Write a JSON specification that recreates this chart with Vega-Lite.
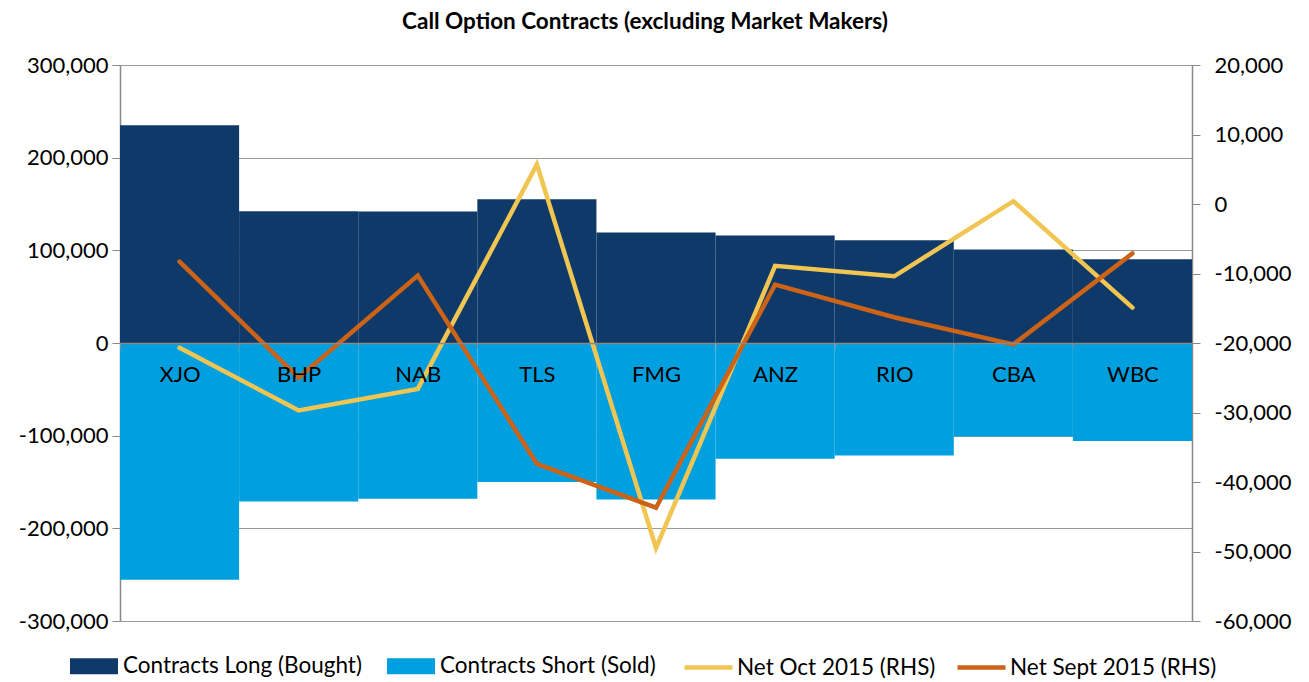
{
  "$schema": "https://vega.github.io/schema/vega-lite/v6.json",
  "autosize": {"type": "none"},
  "padding": {"left": 120, "top": 65, "right": 117, "bottom": 61},
  "width": 1072,
  "height": 556,
  "background": "white",
  "title": {
    "text": "Call Option Contracts (excluding Market Makers)",
    "font": "Lato",
    "fontSize": 22.5,
    "fontWeight": "bold",
    "color": "#000000",
    "anchor": "middle",
    "frame": "group",
    "dx": -11,
    "offset": 21
  },
  "config": {
    "font": "Lato",
    "view": {"stroke": null},
    "locale": {
      "number": {
        "decimal": ".",
        "thousands": ",",
        "grouping": [3],
        "currency": ["$", ""],
        "minus": "-"
      }
    }
  },
  "datasets": {
    "bars": [
      {"cat": "XJO", "series": "Contracts Long (Bought)", "value": 235000},
      {"cat": "BHP", "series": "Contracts Long (Bought)", "value": 142200},
      {"cat": "NAB", "series": "Contracts Long (Bought)", "value": 141900},
      {"cat": "TLS", "series": "Contracts Long (Bought)", "value": 155200},
      {"cat": "FMG", "series": "Contracts Long (Bought)", "value": 119200},
      {"cat": "ANZ", "series": "Contracts Long (Bought)", "value": 116000},
      {"cat": "RIO", "series": "Contracts Long (Bought)", "value": 110900},
      {"cat": "CBA", "series": "Contracts Long (Bought)", "value": 100900},
      {"cat": "WBC", "series": "Contracts Long (Bought)", "value": 90400},
      {"cat": "XJO", "series": "Contracts Short (Sold)", "value": -255500},
      {"cat": "BHP", "series": "Contracts Short (Sold)", "value": -171000},
      {"cat": "NAB", "series": "Contracts Short (Sold)", "value": -168000},
      {"cat": "TLS", "series": "Contracts Short (Sold)", "value": -150100},
      {"cat": "FMG", "series": "Contracts Short (Sold)", "value": -168800},
      {"cat": "ANZ", "series": "Contracts Short (Sold)", "value": -124900},
      {"cat": "RIO", "series": "Contracts Short (Sold)", "value": -121300},
      {"cat": "CBA", "series": "Contracts Short (Sold)", "value": -100800},
      {"cat": "WBC", "series": "Contracts Short (Sold)", "value": -105800}
    ],
    "lines": [
      {"cat": "XJO", "series": "Net Oct 2015 (RHS)", "value": -20700},
      {"cat": "BHP", "series": "Net Oct 2015 (RHS)", "value": -29700},
      {"cat": "NAB", "series": "Net Oct 2015 (RHS)", "value": -26600},
      {"cat": "TLS", "series": "Net Oct 2015 (RHS)", "value": 5700},
      {"cat": "FMG", "series": "Net Oct 2015 (RHS)", "value": -49500},
      {"cat": "ANZ", "series": "Net Oct 2015 (RHS)", "value": -8900},
      {"cat": "RIO", "series": "Net Oct 2015 (RHS)", "value": -10400},
      {"cat": "CBA", "series": "Net Oct 2015 (RHS)", "value": 400},
      {"cat": "WBC", "series": "Net Oct 2015 (RHS)", "value": -14900},
      {"cat": "XJO", "series": "Net Sept 2015 (RHS)", "value": -8300},
      {"cat": "BHP", "series": "Net Sept 2015 (RHS)", "value": -25000},
      {"cat": "NAB", "series": "Net Sept 2015 (RHS)", "value": -10300},
      {"cat": "TLS", "series": "Net Sept 2015 (RHS)", "value": -37400},
      {"cat": "FMG", "series": "Net Sept 2015 (RHS)", "value": -43700},
      {"cat": "ANZ", "series": "Net Sept 2015 (RHS)", "value": -11600},
      {"cat": "RIO", "series": "Net Sept 2015 (RHS)", "value": -16300},
      {"cat": "CBA", "series": "Net Sept 2015 (RHS)", "value": -20200},
      {"cat": "WBC", "series": "Net Sept 2015 (RHS)", "value": -7100}
    ]
  },
  "layer": [
    {
      "data": {"name": "bars"},
      "mark": {"type": "bar"},
      "encoding": {
        "x": {
          "field": "cat",
          "type": "nominal",
          "sort": ["XJO", "BHP", "NAB", "TLS", "FMG", "ANZ", "RIO", "CBA", "WBC"],
          "scale": {"paddingInner": 0, "paddingOuter": 0},
          "axis": {
            "title": null,
            "orient": "bottom",
            "offset": -278,
            "tickBand": "extent",
            "tickSize": 5,
            "tickColor": "#898989",
            "tickWidth": 1,
            "domainColor": "#898989",
            "domainWidth": 1.5,
            "labelFontSize": 22,
            "labelColor": "#000000",
            "labelPadding": 16,
            "labelAngle": 0,
            "grid": false,
            "zindex": 1
          }
        },
        "y": {
          "field": "value",
          "type": "quantitative",
          "stack": null,
          "scale": {"domain": [-300000, 300000], "nice": false},
          "axis": {
            "title": null,
            "values": [-300000, -200000, -100000, 0, 100000, 200000, 300000],
            "format": ",d",
            "grid": true,
            "gridColor": "#9a9a9a",
            "gridWidth": 1.2,
            "domainColor": "#898989",
            "domainWidth": 1.5,
            "tickColor": "#898989",
            "tickSize": 8,
            "labelFontSize": 22,
            "labelColor": "#000000",
            "labelPadding": 4
          }
        },
        "fill": {
          "field": "series",
          "type": "nominal",
          "scale": {
            "domain": ["Contracts Long (Bought)", "Contracts Short (Sold)"],
            "range": ["#0F3968", "#009FDF"]
          },
          "legend": {
            "title": null,
            "orient": "none",
            "legendX": -50,
            "legendY": 577,
            "direction": "horizontal",
            "padding": 0,
            "labelFontSize": 22.5,
            "labelLimit": 400,
            "labelColor": "#000000",
            "labelOffset": 5,
            "columnPadding": 25,
            "symbolSize": 2304,
            "symbolType": "M-1,-0.333H1V0.333H-1Z",
            "symbolStrokeWidth": 0,
            "symbolOpacity": 1
          }
        }
      }
    },
    {
      "data": {"name": "lines"},
      "mark": {"type": "line", "strokeWidth": 4.5, "strokeCap": "round"},
      "encoding": {
        "x": {
          "field": "cat",
          "type": "nominal",
          "sort": ["XJO", "BHP", "NAB", "TLS", "FMG", "ANZ", "RIO", "CBA", "WBC"]
        },
        "y": {
          "field": "value",
          "type": "quantitative",
          "scale": {"domain": [-60000, 20000], "nice": false},
          "axis": {
            "title": null,
            "orient": "right",
            "values": [-60000, -50000, -40000, -30000, -20000, -10000, 0, 10000, 20000],
            "format": ",d",
            "grid": false,
            "domainColor": "#898989",
            "domainWidth": 1.5,
            "tickColor": "#898989",
            "tickSize": 8,
            "labelFontSize": 22,
            "labelColor": "#000000",
            "labelPadding": 14
          }
        },
        "stroke": {
          "field": "series",
          "type": "nominal",
          "scale": {
            "domain": ["Net Oct 2015 (RHS)", "Net Sept 2015 (RHS)"],
            "range": ["#F0C552", "#CC6316"]
          },
          "legend": {
            "title": null,
            "orient": "none",
            "legendX": 562,
            "legendY": 576,
            "direction": "horizontal",
            "padding": 0,
            "labelFontSize": 22.5,
            "labelLimit": 400,
            "labelColor": "#000000",
            "labelOffset": 2,
            "columnPadding": 12,
            "symbolSize": 2304,
            "symbolType": "stroke",
            "symbolStrokeWidth": 4.5,
            "symbolOpacity": 1
          }
        }
      }
    }
  ],
  "resolve": {"scale": {"y": "independent"}}
}
